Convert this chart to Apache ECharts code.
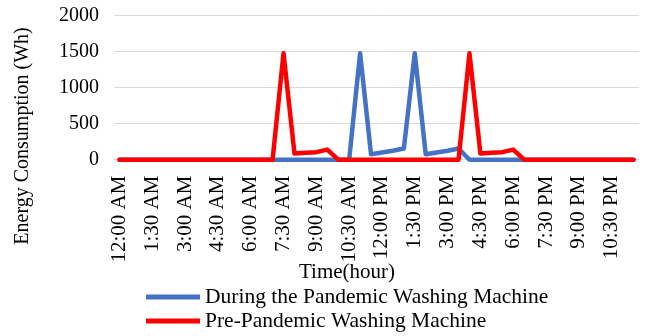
<!DOCTYPE html>
<html>
<head>
<meta charset="utf-8">
<script src="https://cdn.jsdelivr.net/npm/echarts@6/dist/echarts.min.js"></script>
<style>html,body{margin:0;padding:0;background:#fff;}#c{width:646px;height:336px;}</style>
</head>
<body>
<div id="c"></div>
<script>
var categories = ['12:00 AM','12:30 AM','1:00 AM','1:30 AM','2:00 AM','2:30 AM','3:00 AM','3:30 AM','4:00 AM','4:30 AM','5:00 AM','5:30 AM',
  '6:00 AM','6:30 AM','7:00 AM','7:30 AM','8:00 AM','8:30 AM','9:00 AM','9:30 AM','10:00 AM','10:30 AM','11:00 AM','11:30 AM',
  '12:00 PM','12:30 PM','1:00 PM','1:30 PM','2:00 PM','2:30 PM','3:00 PM','3:30 PM','4:00 PM','4:30 PM','5:00 PM','5:30 PM',
  '6:00 PM','6:30 PM','7:00 PM','7:30 PM','8:00 PM','8:30 PM','9:00 PM','9:30 PM','10:00 PM','10:30 PM','11:00 PM','11:30 PM'];
var duringPandemic = [0,0,0,0,0,0,0,0,0,0,0,0,
  0,0,0,0,0,0,0,0,0,0,1480,75,
  100,125,155,1480,75,100,125,155,0,0,0,0,
  0,0,0,0,0,0,0,0,0,0,0,0];
var prePandemic = [0,0,0,0,0,0,0,0,0,0,0,0,
  0,0,0,1480,85,95,105,140,0,0,0,0,
  0,0,0,0,0,0,0,0,1480,85,95,105,140,0,
  0,0,0,0,0,0,0,0,0,0];
var seriesNames = ['During the Pandemic Washing Machine','Pre-Pandemic Washing Machine'];
var yAxisTitle = 'Energy Consumption (Wh)';
var xAxisTitle = 'Time(hour)';

var FONT = '"Liberation Serif", "Times New Roman", serif';
var chart = echarts.init(document.getElementById('c'), null, {renderer:'canvas'});
chart.setOption({
  animation: false,
  backgroundColor: '#fff',
  grid: {left: 114, right: 7, top: 15.7, bottom: 176.3, containLabel: false},
  xAxis: {
    type: 'category', data: categories, boundaryGap: true,
    axisLine: {show: true, lineStyle: {color: '#d9d9d9', width: 1}},
    axisTick: {show: false},
    axisLabel: {interval: 2, rotate: 90, margin: 16, color: '#000', fontFamily: FONT, fontSize: 21}
  },
  yAxis: {
    type: 'value', min: 0, max: 2000, interval: 500,
    axisLine: {show: false}, axisTick: {show: false},
    splitLine: {lineStyle: {color: '#d9d9d9', width: 1}},
    axisLabel: {margin: 15, color: '#000', fontFamily: FONT, fontSize: 20,
      formatter: function (v) { return String(v); }}
  },
  legend: {
    orient: 'vertical', left: 146, top: 286, height: 50, padding: 0,
    itemWidth: 54, itemHeight: 5, itemGap: 2,
    icon: 'rect',
    textStyle: {color: '#000', fontFamily: FONT, fontSize: 21.5, lineHeight: 21},
    data: seriesNames
  },
  graphic: [
    {type: 'text', x: 23, y: 136, rotation: Math.PI/2,
     style: {text: yAxisTitle, font: '20px ' + FONT, fill: '#000', align: 'center', verticalAlign: 'middle'}},
    {type: 'text', x: 347, y: 272,
     style: {text: xAxisTitle, font: '21px ' + FONT, fill: '#000', align: 'center', verticalAlign: 'middle'}}
  ],
  series: [
    {name: seriesNames[0], type: 'line', data: duringPandemic, showSymbol: false, symbol: 'none',
     itemStyle: {color: '#4472C4'},
     lineStyle: {color: '#4472C4', width: 4.5, cap: 'round', join: 'round'}},
    {name: seriesNames[1], type: 'line', data: prePandemic, showSymbol: false, symbol: 'none',
     itemStyle: {color: '#FF0000'},
     lineStyle: {color: '#FF0000', width: 4.5, cap: 'round', join: 'round'}}
  ]
});
</script>
</body>
</html>
